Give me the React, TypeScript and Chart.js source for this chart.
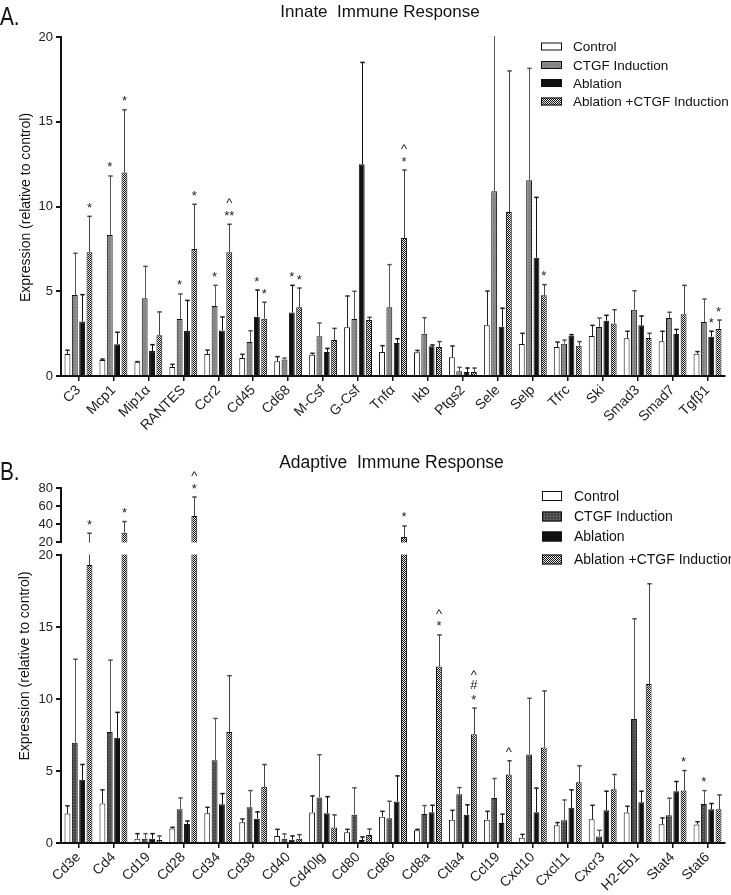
import React, { useEffect, useRef } from 'react';
import { Chart, registerables, LinearScale } from 'chart.js';

Chart.register(...registerables);

// ---------------- data ----------------
const seriesNames = ['Control', 'CTGF Induction', 'Ablation', 'Ablation +CTGF Induction'];

const innateLabels = ['C3', 'Mcp1', 'Mip1\u03b1', 'RANTES', 'Ccr2', 'Cd45', 'Cd68', 'M-Csf', 'G-Csf', 'Tnf\u03b1', 'Ikb', 'Ptgs2', 'Sele', 'Selp', 'Tfrc', 'Ski', 'Smad3', 'Smad7', 'Tgf\u03b21'];
const innateControl = [1.30, 0.94, 0.81, 0.53, 1.30, 1.06, 0.87, 1.26, 2.87, 1.42, 1.40, 1.10, 2.99, 1.89, 1.71, 2.36, 2.22, 2.05, 1.32];
const innateControlErr = [1.52, 1.00, 0.85, 0.69, 1.53, 1.28, 1.14, 1.34, 4.72, 1.79, 1.51, 1.77, 5.01, 2.52, 2.00, 2.99, 2.64, 2.64, 1.44];
const innateCtgf = [4.78, 8.32, 4.58, 3.36, 4.13, 2.00, 0.98, 2.34, 3.36, 4.05, 2.50, 0.28, 10.9, 11.55, 1.91, 2.89, 3.91, 3.42, 3.19];
const innateCtgfErr = [7.24, 11.8, 6.47, 4.84, 5.35, 2.67, 1.06, 3.13, 5.00, 6.57, 3.44, 0.51, 20.5, 18.15, 2.12, 3.42, 5.03, 3.76, 4.54];
const innateAbl = [3.21, 1.87, 1.47, 2.65, 2.69, 3.50, 3.74, 1.42, 12.5, 1.95, 1.75, 0.24, 2.91, 6.98, 2.38, 3.26, 2.99, 2.48, 2.32];
const innateAblErr = [4.80, 2.58, 1.85, 4.46, 3.48, 5.07, 5.35, 1.63, 18.5, 2.20, 1.83, 0.47, 4.00, 10.54, 2.44, 3.58, 3.54, 2.75, 2.64];
const innateCombo = [7.30, 12.0, 2.40, 7.49, 7.30, 3.38, 4.05, 2.12, 3.30, 8.14, 1.71, 0.24, 9.67, 4.76, 1.79, 3.09, 2.24, 3.64, 2.77];
const innateComboErr = [9.42, 15.7, 3.78, 10.13, 8.95, 4.35, 5.19, 2.81, 3.46, 12.15, 2.03, 0.47, 18.0, 5.39, 2.03, 3.91, 2.52, 5.35, 3.30];
const innateControlSig = ['', '', '', '', '', '', '', '', '', '', '', '', '', '', '', '', '', '', ''];
const innateCtgfSig = ['', '*', '', '*', '*', '', '', '', '', '', '', '', '', '', '', '', '', '', ''];
const innateAblSig = ['', '', '', '', '', '*', '*', '', '', '', '', '', '', '', '', '', '', '', '*'];
const innateComboSig = ['*', '*', '', '*', '**/^', '*', '*', '', '', '*/^', '', '', '', '*', '', '', '', '', '*'];
const innateTicks = [0, 5, 10, 15, 20];

const adaptiveLabels = ['Cd3e', 'Cd4', 'Cd19', 'Cd28', 'Cd34', 'Cd38', 'Cd40', 'Cd40lg', 'Cd80', 'Cd86', 'Cd8a', 'Ctla4', 'Ccl19', 'Cxcl10', 'Cxcl11', 'Cxcr3', 'H2-Eb1', 'Stat4', 'Stat6'];
const adaptiveControl = [2.04, 2.74, 0.30, 1.00, 2.06, 1.44, 0.49, 2.11, 0.74, 1.83, 0.88, 1.62, 1.62, 0.37, 1.23, 1.65, 2.11, 1.30, 1.28];
const adaptiveControlErr = [2.58, 3.69, 0.65, 1.09, 2.48, 1.67, 0.95, 3.27, 0.95, 2.20, 0.95, 2.27, 2.20, 0.60, 1.42, 2.62, 2.55, 1.74, 1.48];
const adaptiveCtgf = [6.96, 7.70, 0.30, 2.34, 5.75, 2.48, 0.30, 3.16, 1.97, 1.72, 2.02, 3.39, 3.13, 6.15, 1.58, 0.46, 8.61, 1.93, 2.71];
const adaptiveCtgfErr = [12.76, 12.7, 0.65, 3.13, 8.65, 3.64, 0.63, 6.13, 3.83, 2.90, 2.60, 3.85, 4.48, 10.05, 2.99, 0.88, 15.57, 3.11, 3.64];
const adaptiveAbl = [4.39, 7.31, 0.30, 1.32, 2.69, 1.69, 0.23, 2.06, 0.21, 2.88, 2.13, 1.97, 1.39, 2.13, 2.44, 2.27, 2.83, 3.60, 2.34];
const adaptiveAblErr = [5.45, 9.07, 0.65, 1.53, 3.43, 2.16, 0.49, 3.22, 0.42, 4.66, 2.62, 2.65, 2.00, 3.81, 3.69, 3.60, 3.60, 4.27, 2.74];
const adaptiveCombo = [19.3, 30.4, 0.21, 48.9, 7.70, 3.90, 0.30, 1.07, 0.56, 25.6, 12.25, 7.56, 4.76, 6.64, 4.22, 3.74, 11.04, 3.64, 2.34];
const adaptiveComboErr = [29.7, 42.7, 0.49, 70, 11.62, 5.45, 0.58, 1.95, 0.97, 37.8, 14.45, 9.37, 5.71, 10.56, 5.36, 4.76, 18.0, 5.03, 3.34];
const adaptiveControlSig = ['', '', '', '', '', '', '', '', '', '', '', '', '', '', '', '', '', '', ''];
const adaptiveCtgfSig = ['', '', '', '', '', '', '', '', '', '', '', '', '', '', '', '', '', '', '*'];
const adaptiveAblSig = ['', '', '', '', '', '', '', '', '', '', '', '', '', '', '', '', '', '', ''];
const adaptiveComboSig = ['*', '*', '', '*/^', '', '', '', '', '', '*', '*/^', '*/#/^', '^', '', '', '', '', '*', ''];
const adaptiveTicks = [0, 5, 10, 15, 20, 20.001, 40, 60, 80];
const adaptiveBreak = 20;

// ---------------- layout constants ----------------
const FONT = '"Liberation Sans", Arial, Helvetica, sans-serif';
const UPPER_PX = 54;
const GAP_PX = 13;

class BrokenLinearScale extends LinearScale {
  static id = 'brokenLinear';
  static defaults = { ticks: { callback: (v: number) => String(Math.round(v)) } };
  buildTicks() {
    return adaptiveTicks.map((v) => ({ value: v }));
  }
  getPixelForValue(value: number) {
    const s: any = this;
    const upperBottom = s.top + UPPER_PX;
    const lowerTop = upperBottom + GAP_PX;
    if (value <= adaptiveBreak) {
      return s.bottom - ((value - s.min) / (adaptiveBreak - s.min)) * (s.bottom - lowerTop);
    }
    return upperBottom - ((value - adaptiveBreak) / (s.max - adaptiveBreak)) * UPPER_PX;
  }
  getValueForPixel(pixel: number) {
    const s: any = this;
    const upperBottom = s.top + UPPER_PX;
    const lowerTop = upperBottom + GAP_PX;
    if (pixel >= lowerTop) {
      return s.min + ((s.bottom - pixel) / (s.bottom - lowerTop)) * (adaptiveBreak - s.min);
    }
    return adaptiveBreak + ((upperBottom - pixel) / UPPER_PX) * (s.max - adaptiveBreak);
  }
}
Chart.register(BrokenLinearScale as any);

function dotPattern(base: string, dot: string) {
  const c = document.createElement('canvas');
  c.width = 3;
  c.height = 3;
  const g = c.getContext('2d')!;
  g.fillStyle = base;
  g.fillRect(0, 0, 3, 3);
  g.fillStyle = dot;
  g.fillRect(1, 1, 1, 1);
  return g.createPattern(c, 'repeat')!;
}

function checkerPattern() {
  const c = document.createElement('canvas');
  c.width = 2;
  c.height = 2;
  const g = c.getContext('2d')!;
  g.fillStyle = '#eeeeee';
  g.fillRect(0, 0, 2, 2);
  g.fillStyle = '#111';
  g.fillRect(0, 0, 1, 1);
  g.fillRect(1, 1, 1, 1);
  return g.createPattern(c, 'repeat')!;
}

type Spec = {
  letter: string;
  letterBase: number;
  title: string;
  titleCX: number;
  titleBase: number;
  titleSize: number;
  yTitleCX: number;
  yTitleCY: number;
  errs: number[][];
  sigs: string[][];
  fills: any[];
  legendRows: number[];
  legendBoxX: number;
  legendBoxW: number;
  legendBoxH: number;
  legendTextX: number;
  legendSize: number;
  broken: boolean;
};

const errColors = ['#222', '#555', '#111', '#444'];

function makeDecor(spec: Spec) {
  return {
    id: 'decor',
    afterDraw(chart: any) {
      const ctx: CanvasRenderingContext2D = chart.ctx;
      const area = chart.chartArea;
      const ys = chart.scales.y;
      ctx.save();
      // error bars
      ctx.save();
      ctx.beginPath();
      ctx.rect(area.left + 1, area.top - 1, area.right - area.left, area.bottom - area.top + 1);
      ctx.clip();
      chart.data.datasets.forEach((_ds: any, i: number) => {
        const meta = chart.getDatasetMeta(i);
        meta.data.forEach((bar: any, j: number) => {
          const yE = ys.getPixelForValue(spec.errs[i][j]);
          const x = Math.round(bar.x) + 0.5;
          ctx.strokeStyle = errColors[i];
          ctx.lineWidth = 1;
          ctx.beginPath();
          ctx.moveTo(x, bar.y);
          ctx.lineTo(x, yE);
          ctx.stroke();
          ctx.lineWidth = 1.5;
          ctx.beginPath();
          ctx.moveTo(x - 2.2, yE);
          ctx.lineTo(x + 2.2, yE);
          ctx.stroke();
        });
      });
      ctx.restore();

      if (spec.broken) {
        const ub = area.top + UPPER_PX;
        ctx.fillStyle = '#fff';
        ctx.fillRect(area.left + 1, ub + 0.5, area.right - area.left, GAP_PX - 1);
        ctx.strokeStyle = '#111';
        ctx.lineWidth = 2;
        ctx.beginPath();
        ctx.moveTo(area.left, area.top - 1);
        ctx.lineTo(area.left, ub + 1);
        ctx.moveTo(area.left, ub + GAP_PX - 1);
        ctx.lineTo(area.left, area.bottom + 1);
        ctx.stroke();
      }

      // significance marks
      ctx.fillStyle = '#222';
      ctx.font = `13px ${FONT}`;
      ctx.textAlign = 'center';
      ctx.textBaseline = 'alphabetic';
      chart.data.datasets.forEach((_ds: any, i: number) => {
        const meta = chart.getDatasetMeta(i);
        meta.data.forEach((bar: any, j: number) => {
          const s = spec.sigs[i][j];
          if (!s) return;
          const yE = Math.max(ys.getPixelForValue(spec.errs[i][j]), area.top);
          let cy = yE - 11;
          s.split('/').forEach((line) => {
            const m = ctx.measureText(line);
            const base = cy + (m.actualBoundingBoxAscent - m.actualBoundingBoxDescent) / 2;
            ctx.fillText(line, bar.x, base);
            cy -= 12.5;
          });
        });
      });

      // panel letter
      ctx.save();
      ctx.translate(0, spec.letterBase);
      ctx.scale(0.8, 1);
      ctx.fillStyle = '#111';
      ctx.font = `26px ${FONT}`;
      ctx.textAlign = 'left';
      ctx.textBaseline = 'alphabetic';
      ctx.fillText(spec.letter, 0, 0);
      ctx.restore();

      // title
      ctx.fillStyle = '#111';
      ctx.font = `${spec.titleSize}px ${FONT}`;
      ctx.textAlign = 'center';
      ctx.textBaseline = 'alphabetic';
      ctx.fillText(spec.title, spec.titleCX, spec.titleBase);

      // y title
      ctx.save();
      ctx.translate(spec.yTitleCX, spec.yTitleCY);
      ctx.rotate(-Math.PI / 2);
      ctx.font = `14px ${FONT}`;
      ctx.textAlign = 'center';
      ctx.textBaseline = 'middle';
      ctx.fillText('Expression (relative to control)', 0, 0);
      ctx.restore();

      // legend
      spec.legendRows.forEach((y, k) => {
        const h = spec.legendBoxH;
        ctx.fillStyle = spec.fills[k];
        ctx.fillRect(spec.legendBoxX, y - h / 2, spec.legendBoxW, h);
        ctx.strokeStyle = '#111';
        ctx.lineWidth = 1;
        ctx.strokeRect(spec.legendBoxX + 0.5, y - h / 2 + 0.5, spec.legendBoxW - 1, h - 1);
        ctx.fillStyle = '#111';
        ctx.font = `${spec.legendSize}px ${FONT}`;
        ctx.textAlign = 'left';
        ctx.textBaseline = 'middle';
        ctx.fillText(seriesNames[k], spec.legendTextX, y + 1);
      });
      ctx.restore();
    },
  };
}

function buildConfig(opts: {
  labels: string[];
  values: number[][];
  fills: any[];
  yScale: any;
  padTop: number;
  xHeight: number;
  spec: Spec;
}) {
  return {
    type: 'bar',
    data: {
      labels: opts.labels,
      datasets: opts.values.map((v, i) => ({
        label: seriesNames[i],
        data: v,
        backgroundColor: opts.fills[i],
        borderColor: '#111',
        borderWidth: 1,
        categoryPercentage: 0.84,
        barPercentage: 0.8,
      })),
    },
    options: {
      animation: false,
      responsive: false,
      maintainAspectRatio: false,
      layout: { padding: { top: opts.padTop, right: 6, left: 0, bottom: 0 } },
      plugins: { legend: { display: false }, tooltip: { enabled: false }, title: { display: false } },
      scales: {
        x: {
          grid: { display: true, drawOnChartArea: false, drawTicks: true, tickLength: 5, offset: false, color: '#111', lineWidth: 1.5 },
          border: { display: true, color: '#111', width: 2 },
          ticks: { maxRotation: 45, minRotation: 45, autoSkip: false, font: { family: FONT, size: 14 }, color: '#222', padding: 1 },
          afterFit: (s: any) => {
            s.height = opts.xHeight;
          },
        },
        y: {
          ...opts.yScale,
          grid: { display: true, drawOnChartArea: false, drawTicks: true, tickLength: 5, color: '#111', lineWidth: 2 },
          ticks: { autoSkip: false, font: { family: FONT, size: 13 }, color: '#222', padding: 3, callback: (v: number) => String(Math.round(v)) },
          afterFit: (s: any) => {
            s.width = 61;
          },
        },
      },
    },
    plugins: [makeDecor(opts.spec)],
  };
}

export default function App() {
  const refA = useRef<HTMLCanvasElement>(null);
  const refB = useRef<HTMLCanvasElement>(null);

  useEffect(() => {
    const fillsA = ['#ffffff', dotPattern('#8a8a8a', '#6c6c6c'), '#111111', checkerPattern()];
    const fillsB = ['#ffffff', dotPattern('#4a4a4a', '#7a7a7a'), '#111111', checkerPattern()];

    const cfgA = buildConfig({
      labels: innateLabels,
      values: [innateControl, innateCtgf, innateAbl, innateCombo],
      fills: fillsA,
      yScale: {
        min: 0,
        max: 20,
        border: { display: true, color: '#111', width: 2 },
        afterBuildTicks: (s: any) => {
          s.ticks = innateTicks.map((v) => ({ value: v }));
        },
      },
      padTop: 37,
      xHeight: 64,
      spec: {
        letter: 'A.',
        letterBase: 25,
        title: 'Innate  Immune Response',
        titleCX: 380,
        titleBase: 16.5,
        titleSize: 17,
        yTitleCX: 26.5,
        yTitleCY: 207.5,
        errs: [innateControlErr, innateCtgfErr, innateAblErr, innateComboErr],
        sigs: [innateControlSig, innateCtgfSig, innateAblSig, innateComboSig],
        fills: fillsA,
        legendRows: [46.5, 65, 83, 101.5],
        legendBoxX: 541,
        legendBoxW: 21,
        legendBoxH: 8,
        legendTextX: 573,
        legendSize: 13.5,
        broken: false,
      },
    });

    const cfgB = buildConfig({
      labels: adaptiveLabels,
      values: [adaptiveControl, adaptiveCtgf, adaptiveAbl, adaptiveCombo],
      fills: fillsB,
      yScale: {
        type: 'brokenLinear',
        min: 0,
        max: 80,
        border: { display: false },
      },
      padTop: 48,
      xHeight: 52,
      spec: {
        letter: 'B.',
        letterBase: 40,
        title: 'Adaptive  Immune Response',
        titleCX: 391.5,
        titleBase: 28,
        titleSize: 17.5,
        yTitleCX: 25,
        yTitleCY: 226,
        errs: [adaptiveControlErr, adaptiveCtgfErr, adaptiveAblErr, adaptiveComboErr],
        sigs: [adaptiveControlSig, adaptiveCtgfSig, adaptiveAblSig, adaptiveComboSig],
        fills: fillsB,
        legendRows: [56, 76.5, 96.5, 119.5],
        legendBoxX: 542,
        legendBoxW: 20,
        legendBoxH: 10,
        legendTextX: 574,
        legendSize: 14,
        broken: true,
      },
    });

    const a = new Chart(refA.current!, cfgA as any);
    const b = new Chart(refB.current!, cfgB as any);
    return () => {
      a.destroy();
      b.destroy();
    };
  }, []);

  return (
    <div style={{ position: 'absolute', left: 0, top: 0, width: 731, height: 895, background: '#fff', overflow: 'hidden' }}>
      <canvas ref={refA} width={731} height={440} style={{ position: 'absolute', left: 0, top: 0, width: 731, height: 440 }} />
      <canvas ref={refB} width={731} height={455} style={{ position: 'absolute', left: 0, top: 440, width: 731, height: 455 }} />
    </div>
  );
}
